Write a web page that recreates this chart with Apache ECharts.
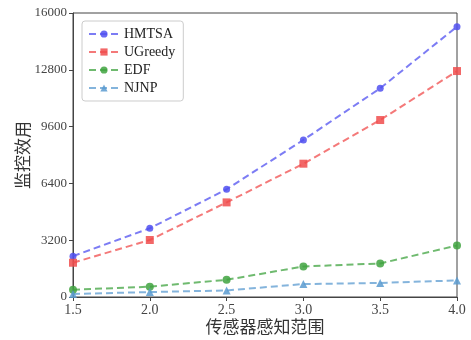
<!DOCTYPE html>
<html><head><meta charset="utf-8">
<script src="https://cdn.jsdelivr.net/npm/echarts@6/dist/echarts.min.js"></script>
<style>html,body{margin:0;padding:0;background:#fff}#c{width:471px;height:340px}</style>
</head><body><div id="c"></div>
<script>
const categories = [1.5, 2.0, 2.5, 3.0, 3.5, 4.0];
const hmtsa = [2300, 3870, 6070, 8850, 11760, 15230];
const ugreedy = [1930, 3210, 5330, 7510, 9970, 12730];
const edf = [410, 580, 970, 1720, 1890, 2900];
const njnp = [170, 280, 370, 730, 790, 935];
const yTicks = [0, 3200, 6400, 9600, 12800, 16000];
const xTicks = ['1.5', '2.0', '2.5', '3.0', '3.5', '4.0'];

const serif = '"Liberation Serif","DejaVu Serif","Noto Sans CJK SC",serif';
const chart = echarts.init(document.getElementById('c'));
function mk(name, data, color, symbol, size) {
  return {
    name, type: 'line', data: categories.map((x, i) => [x, data[i]]),
    symbol, symbolSize: size, showSymbol: true,
    lineStyle: { type: [7, 4], width: 2, color, opacity: 0.75 },
    itemStyle: { color, opacity: 0.85 },
    z: 3
  };
}
chart.setOption({
  animation: false,
  grid: { left: 73, right: 14, top: 13, bottom: 43, show: true, borderColor: '#444', borderWidth: 1,
          containLabel: false, outerBoundsMode: 'none' },
  legend: {
    orient: 'vertical', left: 82, top: 21, itemGap: 4, itemWidth: 30, itemHeight: 9,
    textStyle: { fontFamily: serif, fontSize: 14, color: '#222' },
    backgroundColor: '#fff', borderColor: '#ccc', borderWidth: 1, borderRadius: 3,
    padding: [6, 8, 6, 6],
    data: ['HMTSA', 'UGreedy', 'EDF', 'NJNP']
  },
  xAxis: {
    type: 'value', min: 1.5, max: 4.0, interval: 0.5,
    name: '传感器感知范围', nameLocation: 'middle', nameGap: 21, nameMoveOverlap: false,
    nameTextStyle: { fontFamily: '"Noto Sans CJK SC",serif', fontSize: 17, color: '#333' },
    axisLine: { show: true, lineStyle: { color: '#444' } },
    axisTick: { show: true, length: 4, lineStyle: { color: '#444' } },
    splitLine: { show: false },
    axisLabel: { fontFamily: serif, fontSize: 14, color: '#444', margin: 6,
      formatter: v => xTicks[Math.round((v - 1.5) / 0.5)] }
  },
  yAxis: {
    type: 'value', min: 0, max: 16000, interval: 3200,
    name: '监控效用', nameLocation: 'middle', nameGap: 42, nameMoveOverlap: false,
    nameTextStyle: { fontFamily: '"Noto Sans CJK SC",serif', fontSize: 17, color: '#333' },
    axisLine: { show: true, lineStyle: { color: '#444' } },
    axisTick: { show: true, length: 4, lineStyle: { color: '#444' } },
    splitLine: { show: false },
    axisLabel: { fontFamily: serif, fontSize: 13, color: '#444', margin: 6,
      formatter: v => String(yTicks[Math.round(v / 3200)]) }
  },
  series: [
    mk('HMTSA', hmtsa, '#5050f0', 'circle', 7),
    mk('UGreedy', ugreedy, '#f04c4c', 'rect', 8),
    mk('EDF', edf, '#3fa33f', 'circle', 8),
    mk('NJNP', njnp, '#5b9bd0', 'triangle', 8)
  ]
});
</script></body></html>
